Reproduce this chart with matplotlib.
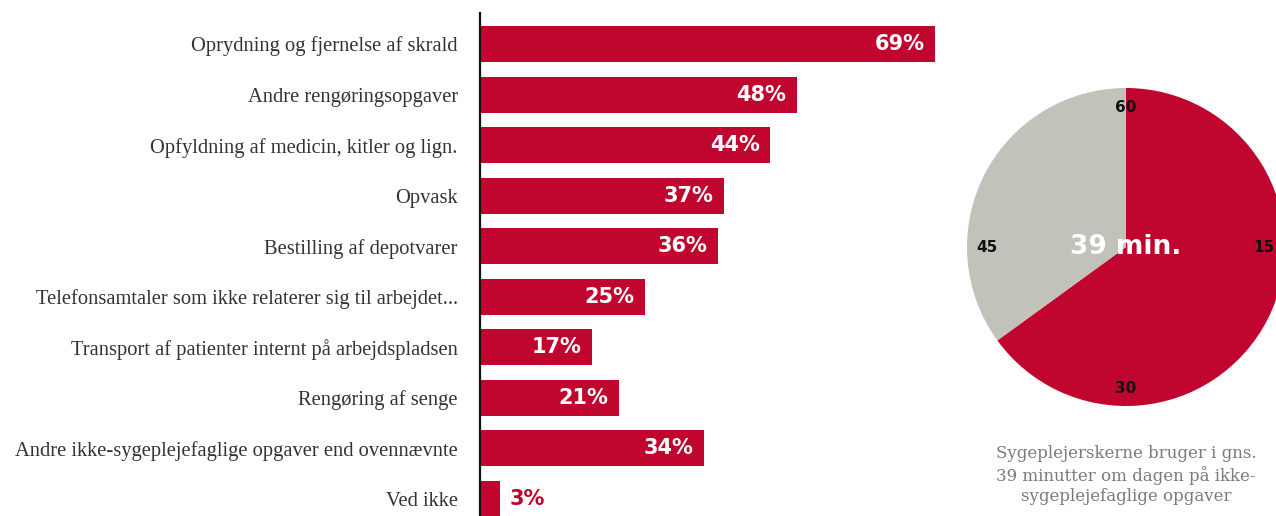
import matplotlib.pyplot as plt

# data
categories = [
    'Oprydning og fjernelse af skrald',
    'Andre rengøringsopgaver',
    'Opfyldning af medicin, kitler og lign.',
    'Opvask',
    'Bestilling af depotvarer',
    'Telefonsamtaler som ikke relaterer sig til arbejdet...',
    'Transport af patienter internt på arbejdspladsen',
    'Rengøring af senge',
    'Andre ikke-sygeplejefaglige opgaver end ovennævnte',
    'Ved ikke',
]
percent = [69, 48, 44, 37, 36, 25, 17, 21, 34, 3]

minutes = [39, 21]  # ikke-sygeplejefaglige / resten af timen
clock_ticks = ['60', '15', '30', '45']

red = '#c0052f'
grey = '#c2c2bb'

fig = plt.figure(figsize=(12.76, 5.16), dpi=100)

# bar chart
ax = fig.add_axes([480 / 1276, 0, 470 / 1276, 1 - 13 / 516])
y = list(range(len(categories)))
ax.barh(y, percent, height=0.71, color=red, left=0)
ax.set_ylim(9.337, -0.614)
ax.set_xlim(0, 71.2)
for s in ['top', 'right', 'bottom']:
    ax.spines[s].set_visible(False)
ax.spines['left'].set_linewidth(1.6)
ax.spines['left'].set_color('#111111')
ax.set_xticks([])
ax.set_yticks(y)
ax.set_yticklabels(categories, fontsize=14.8, color='#333333', family='Liberation Serif')
ax.tick_params(axis='y', length=0, pad=16)

for i, v in enumerate(percent):
    if v >= 10:
        ax.text(v - 1.6, i, f'{v}%', ha='right', va='center', color='white',
                fontsize=15, fontweight='bold')
    else:
        ax.text(v + 1.5, i, f'{v}%', ha='left', va='center', color=red,
                fontsize=15, fontweight='bold')

# pie chart
pax = fig.add_axes([(1126 - 159) / 1276, (516 - 247 - 159) / 516, 318 / 1276, 318 / 516])
pax.pie(minutes, colors=[red, grey], startangle=90, counterclock=False,
        radius=1, wedgeprops=dict(linewidth=0))
pax.set_xlim(-1, 1)
pax.set_ylim(-1, 1)
pax.set_aspect('equal')
pax.axis('off')

tick_pos = [(0, 0.88), (0.87, 0), (0, -0.89), (-0.875, 0)]
for (px, py), t in zip(tick_pos, clock_ticks):
    pax.text(px, py, t, ha='center', va='center', fontsize=11, fontweight='bold',
             color='#111111')
pax.text(0, 0, '39 min.', ha='center', va='center', fontsize=19, fontweight='bold',
         color='white')

fig.text(1126 / 1276, 1 - 475 / 516,
         'Sygeplejerskerne bruger i gns.\n39 minutter om dagen på ikke-\nsygeplejefaglige opgaver',
         ha='center', va='center', fontsize=12, color='#7a7a7a', family='DejaVu Serif',
         linespacing=1.25)

fig.savefig('out.png', dpi=100)
